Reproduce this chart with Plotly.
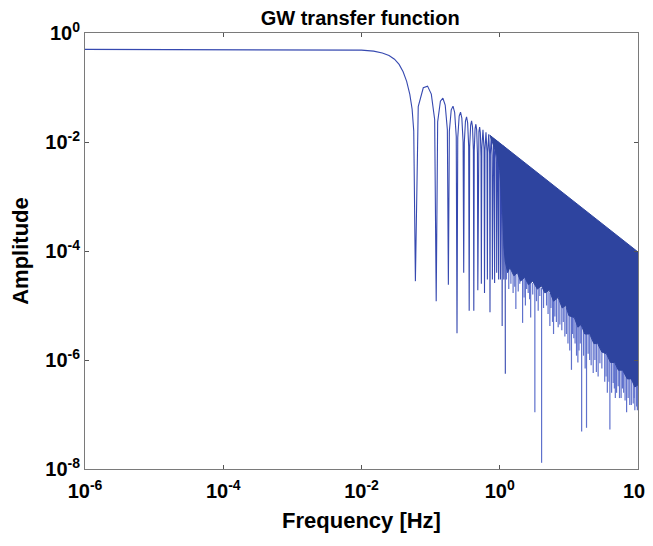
import plotly.graph_objects as go

# plateau, main lobe and the first side lobes
lobe_hz = [1e-6, 1e-4, 1e-3, 0.005, 0.01, 0.015, 0.02, 0.025, 0.03, 0.035, 0.04, 0.045, 0.05, 0.054, 0.057, 0.0602,
           0.0662, 0.0783, 0.0903, 0.1023, 0.1144, 0.1204,
           0.1264, 0.1385, 0.1505, 0.1625, 0.1746, 0.1806,
           0.1866, 0.1987, 0.2107, 0.2227, 0.2348, 0.2408,
           0.2468, 0.2589, 0.2709, 0.2829, 0.2950, 0.3010,
           0.3070, 0.3191, 0.3311, 0.3431, 0.3552, 0.3612,
           0.3672, 0.3793, 0.3913, 0.4033, 0.4154, 0.4214,
           0.4274, 0.4395, 0.4515, 0.4635, 0.4756, 0.4816,
           0.4876, 0.4997, 0.5117, 0.5237, 0.5358, 0.5418,
           0.5508, 0.5719, 0.5930, 0.6020,
           0.6110, 0.6321, 0.6532, 0.6622,
           0.6712, 0.6923, 0.7134, 0.7224,
           0.7314, 0.7525, 0.7736, 0.7826,
           0.7916, 0.8127, 0.8338, 0.8428,
           0.8518, 0.8729, 0.8940, 0.9030,
           0.9120, 0.9331, 0.9542, 0.9632,
           0.9722, 0.9933, 1.0144, 1.0234,
           1.0324, 1.0535, 1.0746, 1.0836,
           1.0926, 1.1137, 1.1348, 1.1438,
           1.1528, 1.1739, 1.1950, 1.2040]
lobe_amp = [0.5, 0.5, 0.5, 0.499, 0.485, 0.465, 0.43, 0.385, 0.33, 0.265, 0.195, 0.13, 0.075, 0.04, 0.016, 2.8e-5,
            0.0447, 0.0989, 0.106, 0.0757, 0.0259, 1.2e-5,
            0.0234, 0.0559, 0.0636, 0.0476, 0.0169, 2.4e-5,
            0.0158, 0.0390, 0.0454, 0.0348, 0.0126, 3.1e-6,
            0.0120, 0.0299, 0.0353, 0.0274, 0.0100, 4e-5,
            0.0096, 0.0243, 0.0289, 0.0226, 0.0083, 8e-6,
            0.0081, 0.0204, 0.0245, 0.0192, 0.0071, 8e-6,
            0.0069, 0.0176, 0.0212, 0.0167, 0.0062, 1.9e-5,
            0.0061, 0.0155, 0.0187, 0.0148, 0.0055, 2.5e-5,
            0.0079, 0.0167, 0.0073, 1.7e-5,
            0.0071, 0.0151, 0.0067, 3e-5,
            0.0065, 0.0138, 0.0061, 7.5e-6,
            0.0059, 0.0127, 0.0056, 3e-5,
            0.0055, 0.0118, 0.0052, 2.6e-5,
            0.0051, 0.0110, 0.0049, 4e-5,
            0.0048, 0.0103, 0.0046, 3e-5,
            0.0045, 0.0096, 0.0043, 3e-5,
            0.0042, 0.0091, 0.0040, 4.2e-6,
            0.0040, 0.0086, 0.0038, 3e-5,
            0.0038, 0.0082, 0.0036, 5.6e-7]

# dense band above ~0.7 Hz: 1/f top edge and the ragged lower outline
band_top_hz = [0.72, 100]
band_top_amp = [0.0133, 9.6e-5]
band_low_hz = [0.72, 0.8, 0.9, 1.0, 1.1, 1.15, 1.2, 1.3, 1.4, 1.6, 1.8, 2.0, 2.3, 2.6, 3.0, 3.5, 4.0, 4.5, 5.2,
               6.0, 7.0, 8.0, 9.0, 10, 12, 13.5, 15, 17, 20, 23, 26, 30, 35, 40, 46, 52, 60, 70, 80, 90, 100]
band_low_amp = [0.0133, 0.009, 0.006, 0.003, 5e-4, 1.2e-4, 6.5e-5, 4e-5, 5e-5, 3.5e-5, 4e-5, 2.8e-5, 3.3e-5,
                2.4e-5, 2.8e-5, 2e-5, 2.3e-5, 1.7e-5, 1.9e-5, 1.2e-5, 1.4e-5, 9e-6, 1e-5, 6.5e-6, 6e-6, 4e-6,
                4.5e-6, 3e-6, 3e-6, 2e-6, 2e-6, 1.4e-6, 1.3e-6, 9e-7, 9e-7, 6.5e-7, 6.5e-7, 4.5e-7, 4.5e-7,
                3.2e-7, 3.5e-7]

# notches hanging below the band
spike_hz = [1.25, 1.35, 1.45, 1.56, 1.65, 1.71, 1.85, 1.95, 2.14, 2.25, 2.35, 2.45, 2.58, 2.7, 2.8, 3.0, 3.22,
            3.4, 3.6, 3.8, 4.03, 4.3, 4.75, 5.0, 5.31, 5.5, 5.8, 6.0, 6.27, 6.6, 7.0, 7.4, 7.9, 8.3, 8.75, 9.2,
            9.7, 10.3, 10.9, 11.3, 11.8, 12.3, 12.9, 13.5, 14.0, 14.6, 15.3, 16.3, 17.2, 18.0, 19.0, 20.0, 21.0,
            22.5, 23.8, 25.0, 26.5, 28.1, 30.0, 33.0, 34.5, 36.0, 38.0, 39.2, 41.5, 43.8, 45.5, 47.0, 49.0,
            51.7, 54.0, 57.0, 59.5, 62.0, 65.0, 68.4, 72.0, 76.0, 80.0, 85.3, 88.0, 90.0, 95.5, 98.0]
spike_top = [7e-5, 6e-5, 5e-5, 4.5e-5, 4.2e-5, 4e-5, 3.8e-5, 3.6e-5, 3.4e-5, 3.3e-5, 3.2e-5, 3e-5, 3e-5, 2.9e-5,
             2.8e-5, 2.6e-5, 2.5e-5, 2.4e-5, 2.3e-5, 2.2e-5, 2.1e-5, 2e-5, 1.9e-5, 1.8e-5, 1.7e-5, 1.6e-5, 1.5e-5,
             1.45e-5, 1.4e-5, 1.35e-5, 1.3e-5, 1.2e-5, 1.1e-5, 1e-5, 9.5e-6, 9e-6, 8.5e-6, 8e-6, 7.5e-6, 7e-6,
             6.5e-6, 6e-6, 5.5e-6, 5.2e-6, 5e-6, 4.7e-6, 4.5e-6, 4e-6, 3.7e-6, 3.4e-6, 3.1e-6, 2.9e-6, 2.7e-6,
             2.4e-6, 2.2e-6, 2.1e-6, 1.9e-6, 1.8e-6, 1.6e-6, 1.4e-6, 1.3e-6, 1.25e-6, 1.15e-6, 1.1e-6, 1e-6,
             9.5e-7, 9e-7, 8.5e-7, 8e-7, 7.5e-7, 7.2e-7, 6.8e-7, 6.5e-7, 6.2e-7, 5.8e-7, 5.4e-7, 5e-7, 4.7e-7,
             4.4e-7, 4e-7, 3.9e-7, 3.8e-7, 3.6e-7, 3.5e-7]
spike_tip = [3e-5, 2e-5, 2.5e-5, 1.7e-5, 2.2e-5, 8.6e-6, 1.8e-5, 2.5e-5, 4.8e-6, 1.4e-5, 1e-5, 2e-5, 1.7e-5,
             1.3e-5, 6e-6, 1.6e-5, 1.1e-7, 1.2e-5, 8e-6, 1.5e-5, 1.3e-8, 9e-6, 1e-5, 7e-6, 4.2e-6, 9e-6, 5e-6,
             3e-6, 6.3e-6, 5e-6, 4e-6, 4.5e-6, 3.5e-6, 5e-6, 2.7e-6, 3e-6, 2e-6, 1.5e-6, 6.6e-7, 3e-6, 2.5e-6,
             2e-6, 1.2e-6, 9e-7, 1.5e-6, 2e-6, 4.9e-8, 1.2e-6, 7e-7, 5.7e-8, 1.3e-6, 1e-6, 8e-7, 5.8e-7, 1e-6,
             6e-7, 5e-7, 8.7e-7, 7e-7, 4e-7, 5e-7, 2.5e-7, 4e-7, 5.3e-8, 2.5e-7, 3.8e-7, 3e-7, 2e-7, 2.5e-7,
             3.3e-7, 2e-7, 2e-7, 3e-7, 2.5e-7, 1.8e-7, 1.1e-7, 2e-7, 1.5e-7, 1.5e-7, 1.6e-7, 2e-7, 1.2e-7,
             1.4e-7, 1.2e-7]

tick_vals = [1e-6, 1e-4, 1e-2, 1, 100]
tick_text = ['10<sup>-6</sup>', '10<sup>-4</sup>', '10<sup>-2</sup>', '10<sup>0</sup>', '10<sup>2</sup>']
ytick_vals = [1e-8, 1e-6, 1e-4, 1e-2, 1]
ytick_text = ['10<sup>-8</sup>', '10<sup>-6</sup>', '10<sup>-4</sup>', '10<sup>-2</sup>', '10<sup>0</sup>']

blue = '#2e449f'

fig = go.Figure()

# notches as vertical strokes
sx, sy = [], []
for f, top, tip in zip(spike_hz, spike_top, spike_tip):
    sx += [f, f, None]
    sy += [top, tip, None]
fig.add_trace(go.Scatter(x=sx, y=sy, mode='lines', line=dict(color='#5f71cc', width=1.2), hoverinfo='skip'))

fig.add_trace(go.Scatter(x=lobe_hz, y=lobe_amp, mode='lines', line=dict(color='#3649b0', width=1.1)))

fig.add_trace(go.Scatter(x=band_top_hz + band_low_hz[::-1], y=band_top_amp + band_low_amp[::-1],
                         mode='lines', fill='toself', fillcolor=blue, line=dict(color=blue, width=1)))

font = 'Liberation Sans, Arial, sans-serif'
axis_style = dict(type='log', showgrid=False, zeroline=False, showline=True, linecolor='#7a7a7a', linewidth=1,
                  mirror='allticks', ticks='inside', ticklen=4, tickcolor='#555', automargin=False,
                  ticklabeloverflow='allow',
                  tickfont=dict(family=font, size=20, color='black', weight='bold'))

# the page body adds 8 px round the figure, so keep the page inside the window
fig.update_layout(
    width=645, height=530,
    margin=dict(l=77, r=15, t=25, b=69),
    paper_bgcolor='white', plot_bgcolor='white',
    showlegend=False,
    title=dict(text='GW transfer function', x=0.546, xanchor='center', y=0.981, yanchor='middle',
               font=dict(family=font, size=20, color='black', weight='bold')),
    xaxis=dict(axis_style, range=[-6, 2], tickvals=tick_vals, ticktext=tick_text, ticklabelstandoff=4,
               title=dict(text='Frequency [Hz]', standoff=11,
                          font=dict(family=font, size=22, color='black', weight='bold'))),
    yaxis=dict(axis_style, range=[-8, 0], tickvals=ytick_vals, ticktext=ytick_text,
               title=dict(text='Amplitude', standoff=12,
                          font=dict(family=font, size=22, color='black', weight='bold'))),
)

fig.write_html("out.html")
